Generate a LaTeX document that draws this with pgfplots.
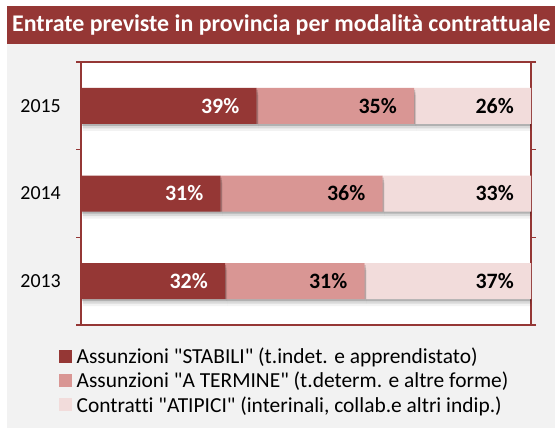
\documentclass[border=0pt]{standalone}
\usepackage{fontspec}
\setmainfont{Carlito}[Ligatures={TeX,NoCommon}]
\usepackage{pgfplots}
\pgfplotsset{compat=1.18}
\usetikzlibrary{shadows}
\definecolor{dred}{HTML}{953735}
\definecolor{mred}{HTML}{D99694}
\definecolor{lred}{HTML}{F2DCDB}
\definecolor{bgg}{HTML}{F2F2F2}
\pgfplotsset{
  barshadow/.style={
    drop shadow={shadow xshift=1bp, shadow yshift=-2bp, opacity=0.18, fill=black},
    drop shadow={shadow xshift=1.5bp, shadow yshift=-4.5bp, opacity=0.10, fill=black},
    drop shadow={shadow xshift=2bp, shadow yshift=-7bp, opacity=0.05, fill=black}},
  lbl/.style={draw=none, mark=none, point meta=explicit,
    nodes near coords={\pgfmathprintnumber{\pgfplotspointmeta}\%},
    every node near coord/.append style={anchor=east, inner sep=0pt, xshift=-17bp,
      font=\fontsize{22}{26}\selectfont\bfseries, text=#1}},
  frame/.style={at={(81bp,103bp)}, anchor=south west, scale only axis, width=450bp, height=263bp,
    xmin=0, xmax=100, ymin=0.5, ymax=3.5},
  sq/.style={legend image code/.code={%
    \pgfpathrectanglecorners{\pgfpoint{0bp}{-6.5bp}}{\pgfpoint{15.5bp}{6.5bp}}%
    \pgfusepath{use as bounding box}%
    \pgfsetfillcolor{#1}%
    \pgfpathrectanglecorners{\pgfpoint{0bp}{-6.5bp}}{\pgfpoint{13bp}{6.5bp}}%
    \pgfusepath{fill}}},
}
\begin{document}
\begin{tikzpicture}[x=1bp,y=1bp]
\fill[white] (0,0) rectangle (558,428);
\fill[bgg] (7,0) rectangle (555,384);
\fill[dred] (7,384) rectangle (555,422);
\node[anchor=west, text=white, font=\fontsize{24}{28}\selectfont\bfseries, inner sep=0pt] at (12,403) {Entrate previste in provincia per modalità contrattuale};
\begin{axis}[frame,
 xbar stacked, bar width=36bp,
 axis background/.style={fill=white},
 axis line style={draw=dred, line width=1.5bp},
 xtick=\empty, ytick={1,2,3}, yticklabels={2013,2014,2015},
 major tick length=0pt,
 extra y ticks={0.5,1.5,2.5,3.5}, extra y tick labels={},
 extra y tick style={major tick length=5bp, tick style={draw=dred, line width=1.5bp}, tick align=outside},
 yticklabel style={font=\fontsize{20}{24}\selectfont, inner sep=0pt, xshift=-20bp},
 legend style={at={(-0.049,-0.078)}, anchor=north west, draw=none, fill=none, inner sep=0pt,
   font=\fontsize{21.5}{24}\selectfont, cells={anchor=west}, row sep=3.2bp},
]
\addplot[fill=dred, draw=none, barshadow, sq=dred]
  coordinates {(32,1) (31,2) (39,3)};
\addplot[fill=mred, draw=none, barshadow, sq=mred]
  coordinates {(31,1) (36,2) (35,3)};
\addplot[fill=lred, draw=none, barshadow, sq=lred]
  coordinates {(37,1) (33,2) (26,3)};
\legend{{Assunzioni \textquotedbl STABILI\textquotedbl\ (t.indet. e apprendistato)},{Assunzioni \textquotedbl A TERMINE\textquotedbl\ (t.determ. e altre forme)},{Contratti \textquotedbl ATIPICI\textquotedbl\ (interinali, collab.e altri indip.)}}
\end{axis}
% value labels, at the right end of each segment
\begin{axis}[frame, hide axis, /pgf/number format/assume math mode=true]
\addplot[lbl=white] coordinates {(32,1) [32] (31,2) [31] (39,3) [39]};
\addplot[lbl=black] coordinates {(63,1) [31] (67,2) [36] (74,3) [35]};
\addplot[lbl=black] coordinates {(100,1) [37] (100,2) [33] (100,3) [26]};
\end{axis}
\end{tikzpicture}
\end{document}
